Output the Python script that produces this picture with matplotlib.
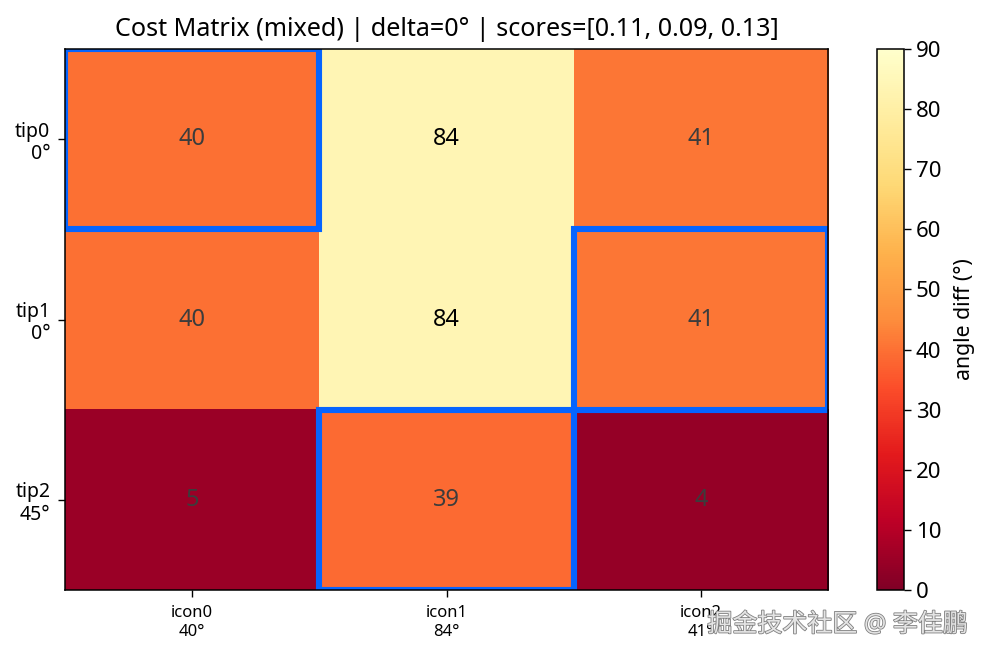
import matplotlib
matplotlib.use("Agg")
import matplotlib.pyplot as plt
import matplotlib.patheffects as pe
from matplotlib.patches import Rectangle
import numpy as np

plt.rcParams["font.family"] = ["Noto Sans", "Noto Sans CJK SC", "DejaVu Sans"]

ICONS = ["icon0\n40°", "icon1\n84°", "icon2\n41°"]
TIPS = ["tip0\n0°", "tip1\n0°", "tip2\n45°"]
COST = np.array([[40, 84, 41],
                 [40, 84, 41],
                 [5, 39, 4]])
# chosen cell per row: (row, col)
MATCHES = [(0, 0), (1, 2), (2, 1)]
TITLE = "Cost Matrix (mixed) | delta=0° | scores=[0.11, 0.09, 0.13]"
WATERMARK = "掘金技术社区 @ 李佳鹏"

W, H = 988, 658
fig = plt.figure(figsize=(W / 100, H / 100), dpi=100)
ax = fig.add_axes([65 / W, 1 - 590 / H, 763 / W, 541 / H])
cax = fig.add_axes([877 / W, 1 - 590 / H, 27 / W, 541 / H])

im = ax.imshow(COST, cmap="YlOrRd_r", vmin=0, vmax=90, aspect="auto")
ax.set_xticks(range(len(ICONS)), ICONS, fontsize=12, linespacing=1.2)
ax.set_yticks(range(len(TIPS)), TIPS, fontsize=14, linespacing=1.15)
ax.tick_params(axis="x", length=5, width=1, pad=6)
ax.tick_params(axis="y", length=5, width=1, pad=5.5)
ax.set_title(TITLE, fontsize=18.1, pad=9)

for r in range(COST.shape[0]):
    for c in range(COST.shape[1]):
        col = "black" if COST[r, c] > 50 else "#3c3c3c"
        ax.text(c, r, str(COST[r, c]), ha="center", va="center", fontsize=17, color=col)

for r, c in MATCHES:
    ax.add_patch(Rectangle((c - 0.5, r - 0.5), 1, 1, fill=False, edgecolor="#0664ff",
                           linewidth=4.4, zorder=3))

for s in ax.spines.values():
    s.set_zorder(4)
    s.set_linewidth(1.1)

cb = fig.colorbar(im, cax=cax, ticks=range(0, 91, 10))
cb.ax.tick_params(labelsize=16, length=5, width=1)
cb.set_label("angle diff (°)", fontsize=15.3, labelpad=9)
cb.outline.set_linewidth(1.1)

fig.text(968 / W, 1 - 625 / H, WATERMARK, ha="right", va="center", fontsize=18, color="#e4e4e4",
         path_effects=[pe.withStroke(linewidth=1.2, foreground="#808080")])

fig.savefig("out.png", dpi=100)
